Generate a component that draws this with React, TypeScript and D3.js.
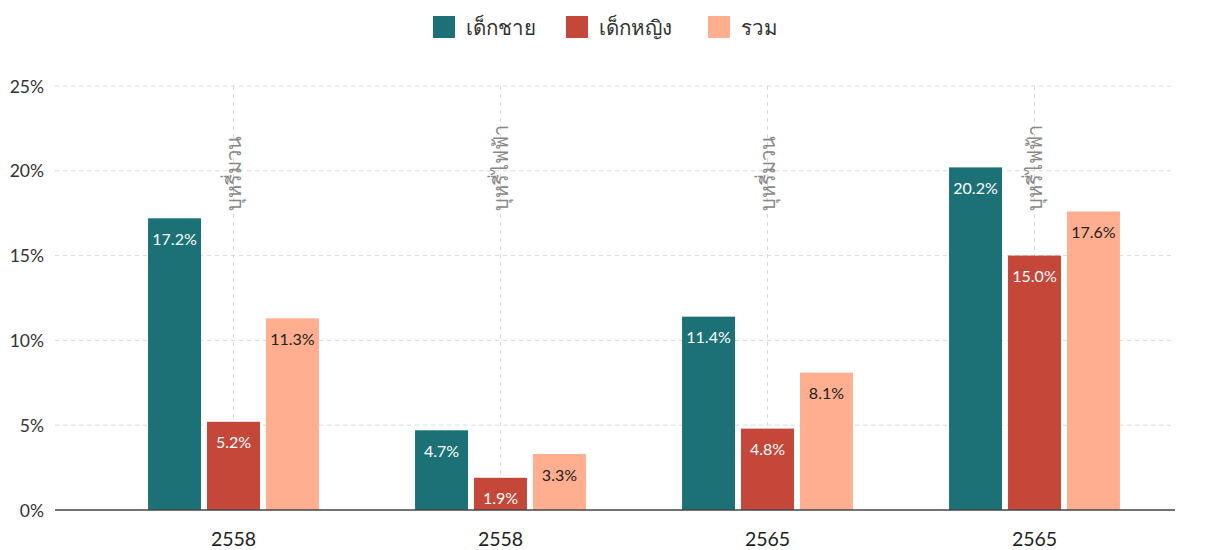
import React from "react";
import * as d3 from "d3";

const years = ["2558", "2558", "2565", "2565"];
const productTypes = ["บุหรี่มวน", "บุหรี่ไฟฟ้า", "บุหรี่มวน", "บุหรี่ไฟฟ้า"];
const seriesNames = ["เด็กชาย", "เด็กหญิง", "รวม"];
const boys = [17.2, 4.7, 11.4, 20.2];
const girls = [5.2, 1.9, 4.8, 15.0];
const total = [11.3, 3.3, 8.1, 17.6];
const yTicks = [0, 5, 10, 15, 20, 25];

const colors = ["#1b7175", "#c4473a", "#ffae90"];
const labelColors = ["#ffffff", "#ffffff", "#222222"];
const FONT = "Lato, 'Noto Sans', 'DejaVu Sans', sans-serif";

export default function App() {
  const W = 1205;
  const H = 550;
  const left = 55;
  const right = 1175;
  const y = d3.scaleLinear().domain([0, 25]).range([510, 86]);
  const idx = years.map((_, i) => i);
  const x = d3
    .scaleBand<number>()
    .domain(idx)
    .range([100, 1168])
    .paddingInner(0.36)
    .paddingOuter(0.18);
  const xs = d3
    .scaleBand<number>()
    .domain([0, 1, 2])
    .range([0, x.bandwidth()])
    .paddingInner(0.102);
  const series = [boys, girls, total];

  return (
    <svg
      width={W}
      height={H}
      style={{ position: "absolute", left: 0, top: 0, fontFamily: FONT }}
    >
      <rect width={W} height={H} fill="#fff" />
      {/* legend */}
      {(() => {
        const pos = [433, 566, 708];
        return seriesNames.map((n, i) => (
          <g key={n} transform={`translate(${pos[i]},16)`}>
            <rect width={22} height={22} fill={colors[i]} />
            <text x={33} y={11} dominantBaseline="central" fontSize={20.5} fill="#333">
              {n}
            </text>
          </g>
        ));
      })()}
      {/* horizontal grid */}
      {yTicks.map((t) => (
        <g key={t}>
          {t > 0 && (
            <line
              x1={left}
              x2={right}
              y1={y(t)}
              y2={y(t)}
              stroke="#d8d8d8"
              strokeDasharray="4,4"
            />
          )}
          <text
            x={44}
            y={y(t)}
            textAnchor="end"
            dominantBaseline="central"
            fontSize={17.5}
            fill="#333"
          >
            {t}%
          </text>
        </g>
      ))}
      {/* vertical grid */}
      {idx.map((i) => {
        const cx = (x(i) as number) + x.bandwidth() / 2;
        return (
          <line
            key={"v" + i}
            x1={cx}
            x2={cx}
            y1={y(25)}
            y2={y(0)}
            stroke="#d8d8d8"
            strokeDasharray="4,4"
          />
        );
      })}
      {/* bars */}
      {idx.map((i) => (
        <g key={"g" + i} transform={`translate(${x(i)},0)`}>
          {series.map((s, k) => {
            const bx = xs(k) as number;
            const top = y(s[i]);
            return (
              <g key={k}>
                <rect
                  x={bx}
                  y={top}
                  width={xs.bandwidth()}
                  height={y(0) - top}
                  fill={colors[k]}
                />
                <text
                  x={bx + xs.bandwidth() / 2}
                  y={top + 20}
                  textAnchor="middle"
                  dominantBaseline="central"
                  fontSize={16}
                  fill={labelColors[k]}
                >
                  {s[i].toFixed(1)}%
                </text>
              </g>
            );
          })}
        </g>
      ))}
      {/* rotated category labels */}
      {idx.map((i) => {
        const cx = (x(i) as number) + x.bandwidth() / 2;
        return (
          <text
            key={"t" + i}
            transform={`translate(${cx + 7},211) rotate(-90)`}
            textAnchor="start"
            fontSize={20}
            fill="#888"
          >
            {productTypes[i]}
          </text>
        );
      })}
      {/* baseline */}
      <line x1={left} x2={right} y1={y(0)} y2={y(0)} stroke="#444" strokeWidth={1.5} />
      {/* x labels */}
      {idx.map((i) => (
        <text
          key={"x" + i}
          x={(x(i) as number) + x.bandwidth() / 2}
          y={538}
          textAnchor="middle"
          dominantBaseline="central"
          fontSize={19.5}
          fill="#222"
        >
          {years[i]}
        </text>
      ))}
    </svg>
  );
}
